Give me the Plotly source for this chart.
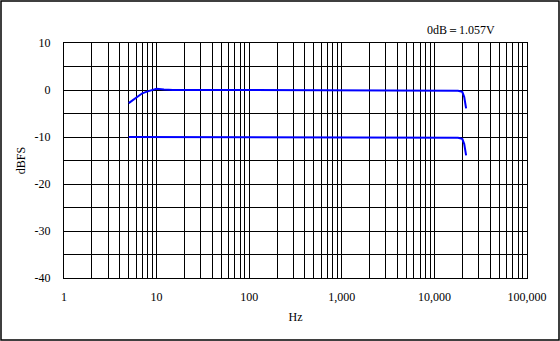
import plotly.graph_objects as go

# data
freq_a = [5, 6, 7, 8, 10, 12, 15, 100, 1000, 10000, 15000, 18000, 20000, 21000, 22000]
level_a = [-2.8, -1.6, -0.7, -0.3, 0.25, 0.1, 0.0, 0.0, 0.0, 0.0, -0.05, -0.15, -0.4, -1.5, -3.9]
freq_b = [5, 10, 100, 1000, 10000, 15000, 18000, 20000, 21000, 22000]
level_b = [-10.0, -10.0, -10.0, -10.0, -10.0, -10.05, -10.15, -10.4, -11.5, -13.9]

x_tickvals = [m * 10 ** d for d in range(5) for m in range(1, 10)] + [100000]
x_ticktext = [("{:,}".format(v) if str(v).startswith("1") and set(str(v)[1:]) <= {"0"} else "") for v in x_tickvals]
y_tickvals = list(range(-40, 11, 5))
y_ticktext = [str(v) if v % 10 == 0 else "" for v in y_tickvals]

font = dict(family="Liberation Serif, Times New Roman, serif", size=12, color="black")

fig = go.Figure()
fig.add_trace(go.Scatter(x=freq_a, y=level_a, mode="lines", line=dict(color="#0000ff", width=2), showlegend=False))
fig.add_trace(go.Scatter(x=freq_b, y=level_b, mode="lines", line=dict(color="#0000ff", width=2), showlegend=False))

L, R, T, B = 64, 33, 43, 63
W, H = 560, 341
pw, ph = W - L - R, H - T - B

fig.update_layout(
    width=W, height=H,
    margin=dict(l=L, r=R, t=T, b=B, autoexpand=False),
    paper_bgcolor="white", plot_bgcolor="white",
    font=font,
    xaxis=dict(type="log", range=[0, 5], tickvals=x_tickvals, ticktext=x_ticktext,
               showgrid=True, gridcolor="black", gridwidth=1, zeroline=False,
               showline=True, linecolor="black", linewidth=1, mirror=True,
               ticks="", ticklabelstandoff=8, tickfont=font, automargin=False,
               title=dict(text="Hz", font=font, standoff=9)),
    yaxis=dict(range=[-40, 10], tickvals=y_tickvals, ticktext=y_ticktext,
               showgrid=True, gridcolor="black", gridwidth=1, zeroline=False,
               showline=True, linecolor="black", linewidth=1, mirror=True,
               ticks="", ticklabelstandoff=10, tickfont=font, automargin=False,
               title=dict(text="dBFS", font=font, standoff=6)),
    annotations=[dict(text="0dB＝1.057V", xref="paper", yref="paper",
                      x=(461 - L) / pw, y=(T + ph - 30) / ph, showarrow=False,
                      xanchor="center", yanchor="middle", font=font)],
    shapes=[dict(type="rect", xref="paper", yref="paper",
                 x0=(1 - L) / pw, x1=(W - 1 - L) / pw,
                 y0=(T + ph - (H - 1)) / ph, y1=(T + ph - 1) / ph,
                 line=dict(color="black", width=1.5), fillcolor="rgba(0,0,0,0)", layer="above")],
)

fig.write_html("out.html", config={"displayModeBar": False},
               post_script="document.body.style.margin='0';document.body.style.padding='0';")
